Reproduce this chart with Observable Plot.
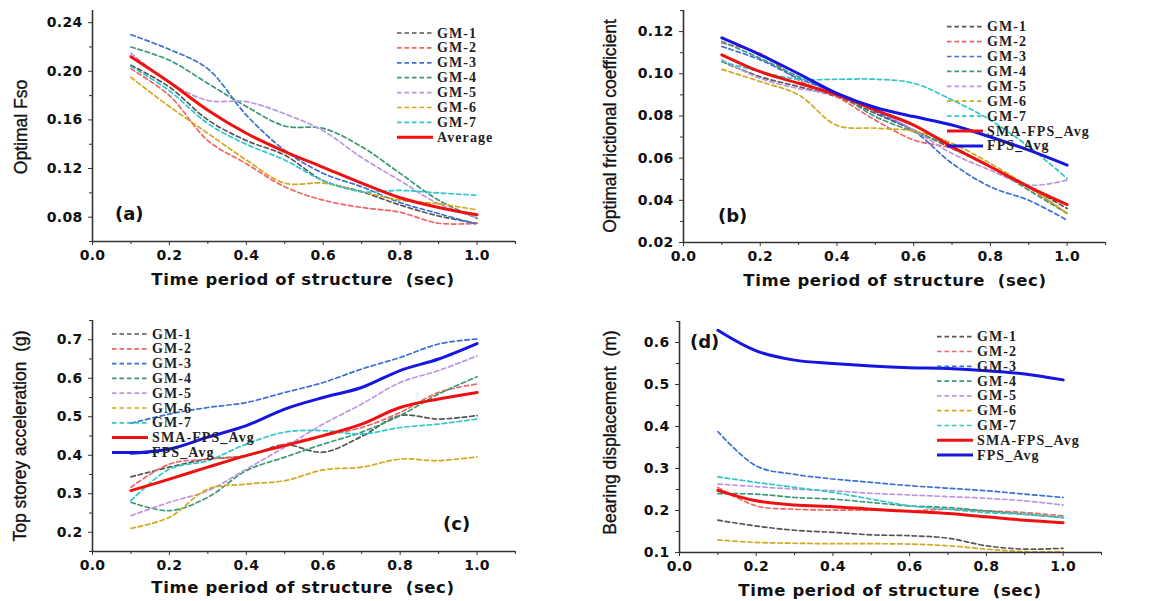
<!DOCTYPE html>
<html><head><meta charset="utf-8">
<script src="https://cdn.jsdelivr.net/npm/d3@7"></script>
<script src="https://cdn.jsdelivr.net/npm/@observablehq/plot@0.6"></script>
<style>
html,body{margin:0;padding:0;background:#fff;}
#wrap{position:relative;width:1161px;height:601px;overflow:hidden;background:#fff;}
#wrap svg{position:absolute;overflow:visible;}
</style></head><body><div id="wrap"></div>
<script>
// ---------- data ----------
const periods = [0.1, 0.2, 0.3, 0.4, 0.5, 0.6, 0.7, 0.8, 0.9, 1.0];
const gmNames = ["GM-1", "GM-2", "GM-3", "GM-4", "GM-5", "GM-6", "GM-7"];
const gmColors = ["#555555", "#f06464", "#3b6fd8", "#3a9a74", "#bb96e2", "#d2a81e", "#2ec8c8"];
const xMajorTicks = [0.0, 0.2, 0.4, 0.6, 0.8, 1.0];
const xMinorTicks = [0.1, 0.3, 0.5, 0.7, 0.9, 1.1];

// (a) Optimal Fso
const fsoGM = [
  [0.205, 0.187, 0.160, 0.143, 0.131, 0.110, 0.101, 0.090, 0.081, 0.075],
  [0.202, 0.180, 0.143, 0.124, 0.105, 0.094, 0.088, 0.084, 0.075, 0.075],
  [0.230, 0.218, 0.202, 0.164, 0.135, 0.116, 0.105, 0.092, 0.083, 0.074],
  [0.220, 0.209, 0.190, 0.171, 0.155, 0.153, 0.138, 0.116, 0.094, 0.079],
  [0.215, 0.191, 0.176, 0.175, 0.165, 0.151, 0.129, 0.110, 0.091, 0.080],
  [0.195, 0.171, 0.149, 0.127, 0.108, 0.108, 0.101, 0.094, 0.091, 0.086],
  [0.204, 0.184, 0.157, 0.140, 0.127, 0.110, 0.101, 0.102, 0.100, 0.098]
];
const fsoAverage = [0.212, 0.191, 0.168, 0.149, 0.134, 0.121, 0.108, 0.096, 0.088, 0.082];
const fsoTicks = [0.08, 0.12, 0.16, 0.20, 0.24];
const fsoMinor = [0.06, 0.10, 0.14, 0.18, 0.22];

// (b) Optimal frictional coefficient
const frictionGM = [
  [0.1058, 0.0986, 0.0939, 0.0891, 0.0812, 0.0733, 0.0646, 0.0560, 0.0464, 0.0361],
  [0.1145, 0.1097, 0.0970, 0.0890, 0.0780, 0.0686, 0.0646, 0.0560, 0.0460, 0.0338],
  [0.1129, 0.1066, 0.0978, 0.0907, 0.0820, 0.0730, 0.0575, 0.0464, 0.0400, 0.0306],
  [0.1153, 0.1073, 0.0986, 0.0907, 0.0797, 0.0725, 0.0654, 0.0560, 0.0448, 0.0338],
  [0.1066, 0.0978, 0.0930, 0.0899, 0.0828, 0.0733, 0.0622, 0.0543, 0.0472, 0.0496],
  [0.1021, 0.0963, 0.0900, 0.0755, 0.0742, 0.0728, 0.0670, 0.0575, 0.0464, 0.0338],
  [0.1058, 0.1010, 0.0974, 0.0974, 0.0974, 0.0955, 0.0876, 0.0780, 0.0654, 0.0504]
];
const frictionSMA = [0.109, 0.101, 0.0955, 0.090, 0.0828, 0.0757, 0.0654, 0.0559, 0.0464, 0.038];
const frictionFPS = [0.117, 0.109, 0.100, 0.0907, 0.084, 0.0797, 0.0757, 0.070, 0.0638, 0.0567];
const frictionTicks = [0.02, 0.04, 0.06, 0.08, 0.10, 0.12];
const frictionMinor = [0.03, 0.05, 0.07, 0.09, 0.11, 0.13];

// (c) Top storey acceleration
const accelGM = [
  [0.344, 0.369, 0.390, 0.399, 0.427, 0.408, 0.449, 0.503, 0.494, 0.503],
  [0.317, 0.377, 0.390, 0.399, 0.429, 0.451, 0.472, 0.511, 0.563, 0.585],
  [0.483, 0.507, 0.524, 0.537, 0.563, 0.589, 0.624, 0.654, 0.689, 0.702],
  [0.278, 0.256, 0.291, 0.360, 0.395, 0.429, 0.460, 0.503, 0.559, 0.604],
  [0.243, 0.278, 0.308, 0.364, 0.421, 0.481, 0.533, 0.589, 0.620, 0.658],
  [0.210, 0.239, 0.312, 0.325, 0.334, 0.362, 0.369, 0.390, 0.386, 0.396],
  [0.282, 0.364, 0.386, 0.429, 0.460, 0.464, 0.455, 0.472, 0.481, 0.494]
];
const accelSMA = [0.308, 0.338, 0.369, 0.399, 0.425, 0.451, 0.481, 0.524, 0.546, 0.563];
const accelFPS = [0.405, 0.416, 0.447, 0.477, 0.520, 0.550, 0.576, 0.620, 0.650, 0.690];
const accelTicks = [0.2, 0.3, 0.4, 0.5, 0.6, 0.7];
const accelMinor = [0.15, 0.25, 0.35, 0.45, 0.55, 0.65, 0.75];

// (d) Bearing displacement
const dispGM = [
  [0.177, 0.163, 0.153, 0.148, 0.142, 0.140, 0.134, 0.116, 0.108, 0.110],
  [0.255, 0.211, 0.203, 0.201, 0.201, 0.199, 0.203, 0.199, 0.195, 0.187],
  [0.388, 0.306, 0.286, 0.275, 0.267, 0.259, 0.253, 0.247, 0.239, 0.231],
  [0.240, 0.239, 0.231, 0.227, 0.219, 0.211, 0.207, 0.199, 0.191, 0.183],
  [0.263, 0.257, 0.251, 0.247, 0.241, 0.237, 0.233, 0.229, 0.223, 0.213],
  [0.130, 0.124, 0.122, 0.121, 0.121, 0.120, 0.116, 0.108, 0.102, 0.102],
  [0.280, 0.267, 0.255, 0.243, 0.227, 0.211, 0.203, 0.195, 0.191, 0.183]
];
const dispSMA = [0.248, 0.223, 0.213, 0.209, 0.203, 0.198, 0.193, 0.185, 0.177, 0.171];
const dispFPS = [0.629, 0.580, 0.558, 0.550, 0.544, 0.540, 0.538, 0.533, 0.525, 0.511];
const dispTicks = [0.1, 0.2, 0.3, 0.4, 0.5, 0.6];
const dispMinor = [0.15, 0.25, 0.35, 0.45, 0.55, 0.65];

const RED = "#ee1111", BLUE = "#1616e0";

// ---------- drawing ----------
const wrap = document.getElementById("wrap");

function panel(cfg) {
  const gmRows = [];
  cfg.gm.forEach((vals, i) => vals.forEach((v, j) => gmRows.push({period: periods[j], value: v, series: gmNames[i]})));
  const solidRows = [];
  cfg.solid.forEach(s => s.values.forEach((v, j) => solidRows.push({period: periods[j], value: v, series: s.name})));
  const names = gmNames.concat(cfg.solid.map(s => s.name));
  const colors = gmColors.concat(cfg.solid.map(s => s.color));

  const svg = Plot.plot({
    width: cfg.w, height: cfg.h,
    marginLeft: cfg.ml, marginRight: cfg.mr, marginTop: cfg.mt, marginBottom: cfg.mb,
    style: {fontFamily: "DejaVu Sans", fontWeight: "bold", fontSize: "14px", color: "#111", background: "transparent", overflow: "visible"},
    x: {domain: [0, 1.1]},
    y: {domain: cfg.yDomain},
    color: {domain: names, range: colors},
    marks: [
      Plot.line(gmRows, {x: "period", y: "value", z: "series", stroke: "series", strokeWidth: 1.7, strokeDasharray: "4.5,3", curve: "catmull-rom"}),
      Plot.line(solidRows, {x: "period", y: "value", z: "series", stroke: "series", strokeWidth: 3, curve: "catmull-rom"}),
      Plot.axisX({ticks: xMajorTicks, tickFormat: d3.format(".1f"), tickSize: 4, tickPadding: 5, label: null, stroke: "#333"}),
      Plot.axisX({ticks: xMinorTicks, tickFormat: () => "", tickSize: 3, label: null, stroke: "#333"}),
      Plot.axisY({ticks: cfg.yTicks, tickFormat: d3.format(cfg.yFormat), tickSize: 4, tickPadding: 6, label: null, stroke: "#333"}),
      Plot.axisY({ticks: cfg.yMinor, tickFormat: () => "", tickSize: 3, label: null, stroke: "#333"}),
      Plot.ruleX([0], {stroke: "#333", strokeWidth: 1.6}),
      Plot.ruleY([cfg.yDomain[0]], {stroke: "#333", strokeWidth: 1.6})
    ]
  });
  svg.style.left = cfg.left + "px";
  svg.style.top = cfg.top + "px";
  svg.querySelectorAll("text").forEach(t => t.setAttribute("letter-spacing", "0.3"));

  const g = d3.select(svg).append("g");
  // y-axis title
  g.append("text")
    .attr("transform", `translate(${cfg.yTitle[0]},${cfg.yTitle[1]}) rotate(-90)`)
    .attr("text-anchor", "middle").attr("dominant-baseline", "central")
    .attr("font-family", "Liberation Sans, Arial, sans-serif").attr("font-size", 17.5).attr("font-weight", "normal")
    .attr("stroke", "#111").attr("stroke-width", 0.35)
    .attr("fill", "#111").text(cfg.yLabel);
  // x-axis title
  g.append("text")
    .attr("x", cfg.xTitle[0]).attr("y", cfg.xTitle[1])
    .attr("text-anchor", "middle").attr("dominant-baseline", "central")
    .attr("font-family", "DejaVu Sans").attr("font-size", 16.5).attr("font-weight", "bold")
    .attr("letter-spacing", "0.6").attr("xml:space", "preserve").style("white-space", "pre")
    .attr("fill", "#111").text("Time period of structure  (sec)");
  // panel tag
  g.append("text")
    .attr("x", cfg.tag[0]).attr("y", cfg.tag[1]).attr("dominant-baseline", "central")
    .attr("text-anchor", "start")
    .attr("font-family", "DejaVu Sans").attr("font-size", 18).attr("font-weight", "bold")
    .attr("fill", "#111").text(cfg.tagText);
  // legend
  names.forEach((n, i) => {
    const y = cfg.leg[2] + i * cfg.leg[3];
    const solid = i >= gmNames.length;
    g.append("line")
      .attr("x1", cfg.leg[0]).attr("x2", cfg.leg[0] + 36).attr("y1", y).attr("y2", y)
      .attr("stroke", colors[i]).attr("stroke-width", solid ? 3 : 1.7)
      .attr("stroke-dasharray", solid ? null : "4.5,3");
    g.append("text")
      .attr("x", cfg.leg[1]).attr("y", y).attr("dominant-baseline", "central")
      .attr("text-anchor", "start")
      .attr("font-family", "Liberation Serif, Times New Roman, serif").attr("font-size", 14).attr("font-weight", "bold")
      .attr("letter-spacing", "1.1").attr("fill", "#222").text(n);
  });
  wrap.appendChild(svg);
}

panel({left: 0, top: 0, w: 580, h: 300, ml: 92, mr: 65, mt: 10, mb: 59,
  yDomain: [0.06, 0.25], yTicks: fsoTicks, yMinor: fsoMinor, yFormat: ".2f",
  gm: fsoGM, solid: [{name: "Average", values: fsoAverage, color: RED}],
  yLabel: "Optimal Fso", yTitle: [21, 127], xTitle: [303, 279],
  tagText: "(a)", tag: [115, 213], leg: [397, 437, 33, 14.9]});

panel({left: 580, top: 0, w: 581, h: 300, ml: 103, mr: 56, mt: 10, mb: 58,
  yDomain: [0.02, 0.13], yTicks: frictionTicks, yMinor: frictionMinor, yFormat: ".2f",
  gm: frictionGM, solid: [{name: "SMA-FPS_Avg", values: frictionSMA, color: RED}, {name: "FPS_Avg", values: frictionFPS, color: BLUE}],
  yLabel: "Optimal frictional coefficient", yTitle: [29.5, 126], xTitle: [315, 280],
  tagText: "(b)", tag: [138, 215], leg: [367, 407, 26.7, 14.9]});

panel({left: 0, top: 300, w: 580, h: 301, ml: 92, mr: 65, mt: 20, mb: 50,
  yDomain: [0.15, 0.75], yTicks: accelTicks, yMinor: accelMinor, yFormat: ".1f",
  gm: accelGM, solid: [{name: "SMA-FPS_Avg", values: accelSMA, color: RED}, {name: "FPS_Avg", values: accelFPS, color: BLUE}],
  yLabel: "Top storey acceleration  (g)", yTitle: [19.5, 136], xTitle: [303, 287],
  tagText: "(c)", tag: [443, 223.5], leg: [112, 152, 34, 14.8]});

panel({left: 580, top: 300, w: 581, h: 301, ml: 99, mr: 60, mt: 21, mb: 49,
  yDomain: [0.1, 0.65], yTicks: dispTicks, yMinor: dispMinor, yFormat: ".1f",
  gm: dispGM, solid: [{name: "SMA-FPS_Avg", values: dispSMA, color: RED}, {name: "FPS_Avg", values: dispFPS, color: BLUE}],
  yLabel: "Bearing displacement  (m)", yTitle: [30, 132.5], xTitle: [310, 290],
  tagText: "(d)", tag: [110, 41], leg: [357, 397, 36.7, 14.8]});
</script>
</body></html>
